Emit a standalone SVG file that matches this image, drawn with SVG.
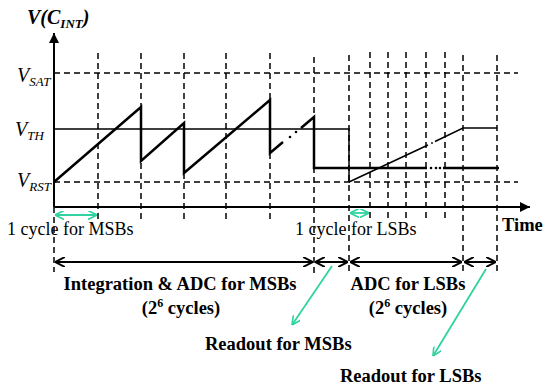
<svg xmlns="http://www.w3.org/2000/svg" width="550" height="388" viewBox="0 0 550 388">
<style>
.dash{stroke:#000;stroke-width:1.5;stroke-dasharray:6 4;fill:none}
.thin{stroke:#000;stroke-width:1.5;fill:none}
.thick{stroke:#000;stroke-width:2.5;fill:none}
.span{stroke:#000;stroke-width:2;fill:none}
.grn{stroke:#2fd3a0;stroke-width:1.8;fill:none}
.t{font-family:"Liberation Serif","Times New Roman",serif;fill:#000}
.b{font-weight:bold}
.i{font-style:italic}
</style>
<defs>
<marker id="oa" viewBox="0 0 10 10" refX="10" refY="5" markerWidth="10" markerHeight="10" markerUnits="userSpaceOnUse" orient="auto-start-reverse">
<path d="M0,0 L10,5 L0,10" fill="none" stroke="#000" stroke-width="2"/>
</marker>
<marker id="ga" viewBox="0 0 10 10" refX="10" refY="5" markerWidth="9" markerHeight="9" markerUnits="userSpaceOnUse" orient="auto-start-reverse">
<path d="M0,0 L10,5 L0,10" fill="none" stroke="#2fd3a0" stroke-width="1.8"/>
</marker>
<marker id="fa" viewBox="0 0 10 10" refX="10" refY="5" markerWidth="10" markerHeight="10" markerUnits="userSpaceOnUse" orient="auto">
<path d="M0,0 L10,5 L0,10 Z" fill="#000"/>
</marker>
</defs>

<g id="grid">
<line class="dash" x1="54" y1="73" x2="518" y2="73"/>
<line class="dash" x1="54" y1="182" x2="518" y2="182"/>
<line class="dash" x1="54" y1="207" x2="54" y2="272"/>
<line class="dash" x1="98" y1="53" x2="98" y2="220"/>
<line class="dash" x1="141" y1="53" x2="141" y2="220"/>
<line class="dash" x1="184" y1="53" x2="184" y2="220"/>
<line class="dash" x1="226" y1="53" x2="226" y2="220"/>
<line class="dash" x1="270" y1="53" x2="270" y2="220"/>
<line class="dash" x1="314" y1="57" x2="314" y2="274"/>
<line class="dash" x1="349" y1="55" x2="349" y2="272"/>
<line class="dash" x1="370" y1="52" x2="370" y2="220"/>
<line class="dash" x1="388" y1="52" x2="388" y2="220"/>
<line class="dash" x1="406" y1="52" x2="406" y2="220"/>
<line class="dash" x1="426" y1="52" x2="426" y2="220"/>
<line class="dash" x1="445" y1="52" x2="445" y2="220"/>
<line class="dash" x1="463" y1="55" x2="463" y2="272"/>
<line class="dash" x1="497" y1="55" x2="497" y2="274"/>
</g>

<g id="axes">
<line class="span" x1="54" y1="207" x2="54" y2="33" marker-end="url(#fa)"/>
<line class="span" x1="54" y1="207" x2="530" y2="207" marker-end="url(#fa)"/>
</g>

<g id="waveform">
<polyline class="thin" points="54,129 349,129 349,182"/>
<polyline class="thick" points="54,182 141,107 141,161 184,123 184,173 270,100 270,153 283,142"/>
<circle cx="290" cy="137" r="1.3" fill="#000"/>
<circle cx="296" cy="132" r="1.3" fill="#000"/>
<polyline class="thick" points="301,128 314,117 314,168 427,168"/>
<circle cx="431" cy="168" r="1.3" fill="#000"/>
<circle cx="436" cy="168" r="1.3" fill="#000"/>
<circle cx="440" cy="168" r="1.3" fill="#000"/>
<line class="thick" x1="443" y1="168" x2="499" y2="168"/>
<line class="thin" x1="349" y1="182" x2="428" y2="145"/>
<circle cx="432" cy="143" r="0.9" fill="#000"/>
<polyline class="thin" points="435,141.5 463,128 497,128"/>
</g>

<g id="connectors">
<line class="grn" x1="55" y1="215" x2="97" y2="215" marker-start="url(#ga)" marker-end="url(#ga)"/>
<line class="grn" x1="350" y1="213" x2="369" y2="213" marker-start="url(#ga)" marker-end="url(#ga)"/>
<line class="span" x1="55" y1="262" x2="313" y2="262" marker-start="url(#oa)" marker-end="url(#oa)"/>
<line class="span" x1="315" y1="262" x2="348" y2="262" marker-start="url(#oa)" marker-end="url(#oa)"/>
<line class="span" x1="350" y1="262" x2="462" y2="262" marker-start="url(#oa)" marker-end="url(#oa)"/>
<line class="span" x1="464" y1="262" x2="496" y2="262" marker-start="url(#oa)" marker-end="url(#oa)"/>
<line class="grn" x1="332" y1="266" x2="292" y2="325" marker-end="url(#ga)"/>
<line class="grn" x1="486" y1="269" x2="433" y2="356" marker-end="url(#ga)"/>
</g>

<g id="labels">
<text class="t b i" x="27" y="24" font-size="20">V(C<tspan font-size="13" dy="4">INT</tspan><tspan dy="-4">)</tspan></text>
<text class="t i" x="17" y="82" font-size="20">V<tspan font-size="13" dy="4">SAT</tspan></text>
<text class="t i" x="15" y="136" font-size="20">V<tspan font-size="13" dy="4">TH</tspan></text>
<text class="t i" x="17" y="187" font-size="20">V<tspan font-size="13" dy="4">RST</tspan></text>
<text class="t" x="7" y="235" font-size="18">1 cycle for MSBs</text>
<text class="t" x="295" y="235" font-size="18">1 cycle for LSBs</text>
<text class="t b" x="502" y="231" font-size="18.5">Time</text>
<text class="t b" x="180" y="290" font-size="18.5" text-anchor="middle">Integration &amp; ADC for MSBs</text>
<text class="t b" x="181" y="314" font-size="18.5" text-anchor="middle">(2<tspan font-size="12" dy="-7">6</tspan><tspan dy="7"> cycles)</tspan></text>
<text class="t b" x="408" y="290" font-size="18.5" text-anchor="middle">ADC for LSBs</text>
<text class="t b" x="408" y="314" font-size="18.5" text-anchor="middle">(2<tspan font-size="12" dy="-7">6</tspan><tspan dy="7"> cycles)</tspan></text>
<text class="t b" x="205" y="350" font-size="18.5">Readout for MSBs</text>
<text class="t b" x="340" y="382" font-size="18.5">Readout for LSBs</text>
</g>
</svg>
